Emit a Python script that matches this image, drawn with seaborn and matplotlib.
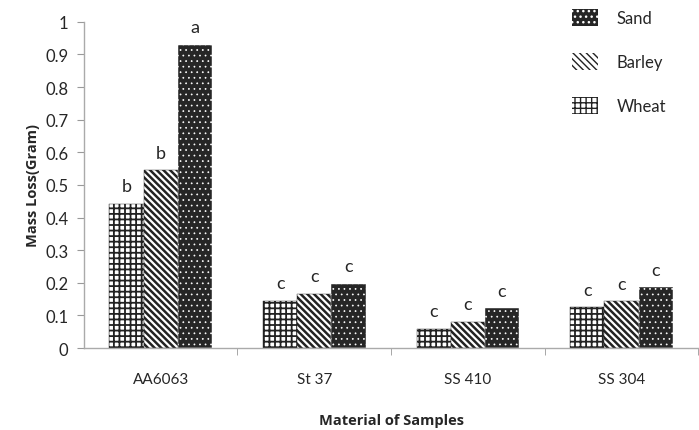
import matplotlib.pyplot as plt
import seaborn as sns
import pandas as pd
from matplotlib.patches import Patch

# data
materials = ["AA6063", "St 37", "SS 410", "SS 304"]
media = ["Wheat", "Barley", "Sand"]
wheat = [0.442, 0.144, 0.058, 0.125]
barley = [0.545, 0.166, 0.080, 0.143]
sand = [0.930, 0.196, 0.122, 0.186]
letters = {
    "Wheat": ["b", "c", "c", "c"],
    "Barley": ["b", "c", "c", "c"],
    "Sand": ["a", "c", "c", "c"],
}

df = pd.DataFrame({
    "material": materials * 3,
    "medium": ["Wheat"] * 4 + ["Barley"] * 4 + ["Sand"] * 4,
    "loss": wheat + barley + sand,
})

sns.set_style("white")
plt.rcParams["font.family"] = ["Lato", "DejaVu Sans"]

styles = {
    "Wheat": dict(face="white", edge="#222222", hatch="+++", hlw=1.3),
    "Barley": dict(face="white", edge="#222222", hatch="\\" * 5, hlw=1.8),
    "Sand": dict(face="#262626", edge="white", hatch="...", hlw=0.5),
}


def style_patch(p, st):
    p.set_facecolor(st["face"])
    p.set_edgecolor(st["edge"])
    p.set_hatch(st["hatch"])
    p.set_linewidth(0.3)
    if hasattr(p, "set_hatch_linewidth"):
        p.set_hatch_linewidth(st["hlw"])


fig = plt.figure(figsize=(6.99, 4.31), dpi=100)
ax = fig.add_axes([0.12, 0.19, 0.879, 0.757])

sns.barplot(data=df, x="material", y="loss", hue="medium", hue_order=media,
            order=materials, width=0.667, ax=ax, legend=False)

for name, cont in zip(media, ax.containers):
    for bar, lab in zip(cont, letters[name]):
        style_patch(bar, styles[name])
        ax.text(bar.get_x() + bar.get_width() / 2, bar.get_height() + 0.03, lab,
                ha="center", va="bottom", fontsize=13)

ax.set_ylim(0, 1)
ax.set_xlim(-0.5, 3.5)
ax.set_yticks([i / 10 for i in range(11)])
ax.set_yticklabels(["0"] + [f"{i/10:.1f}" for i in range(1, 10)] + ["1"], fontsize=12)
ax.tick_params(axis="y", left=True, length=5, color="#999999", pad=6)
ax.tick_params(axis="x", bottom=False, labelsize=11, pad=14)
ax.set_xticks([0.5, 1.5, 2.5, 3.5], minor=True)
ax.tick_params(axis="x", which="minor", bottom=True, length=5, color="#999999")

for s in ["top", "right"]:
    ax.spines[s].set_visible(False)
for s in ["left", "bottom"]:
    ax.spines[s].set_color("#aaaaaa")
    ax.spines[s].set_linewidth(1)

bold = ["Open Sans", "DejaVu Sans"]
ax.set_ylabel("Mass Loss(Gram)", fontsize=10.5, fontweight="bold", family=bold, labelpad=4)
ax.set_xlabel("Material of Samples", fontsize=10.5, fontweight="bold", family=bold, labelpad=19)

handles = []
for m in ["Sand", "Barley", "Wheat"]:
    h = Patch()
    style_patch(h, styles[m])
    h.set_linewidth(0)
    handles.append(h)
ax.legend(handles, ["Sand", "Barley", "Wheat"], loc="upper right",
          bbox_to_anchor=(0.972, 1.085), frameon=False, fontsize=12,
          handlelength=1.6, handleheight=1.2, labelspacing=1.6, handletextpad=1.1)

fig.savefig("out.png", dpi=100)
